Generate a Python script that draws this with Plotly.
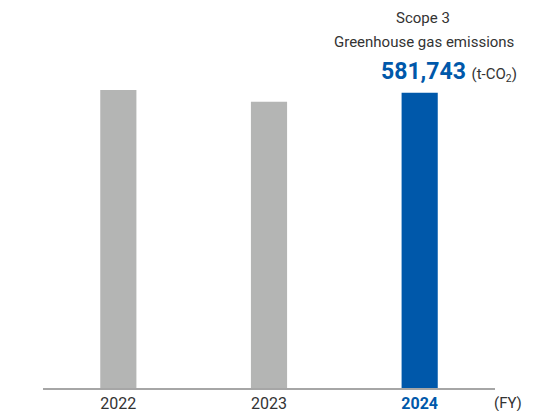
import plotly.graph_objects as go

years = ["2022", "2023", "2024"]
emissions = [587100, 564000, 581743]
bar_colors = ["#B4B5B4", "#B4B5B4", "#0058AA"]
tick_text = ["2022", "2023", "<b><span style='color:#0058AA'>2024</span></b>"]

fig = go.Figure(go.Bar(
    x=years, y=emissions, marker=dict(color=bar_colors, line=dict(width=0)),
    width=0.24, hoverinfo="skip"))

OFF = 8  # page body margin
W, H = 528, 403
L, R, T, B = 35, 41, 12, 23
pw, ph = W - L - R, H - T - B

def px(x):
    return (x - OFF - L) / pw

def py(y):
    return (H - B - (y - OFF)) / ph

fig.update_layout(
    width=W, height=H, margin=dict(l=L, r=R, t=T, b=B, autoexpand=False),
    paper_bgcolor="white", plot_bgcolor="white",
    font=dict(family="Roboto, sans-serif", color="#333333"),
    showlegend=False,
    xaxis=dict(type="category", tickvals=years, ticktext=tick_text,
               showline=True, linecolor="#A6A6A6", linewidth=1.5,
               ticks="", tickfont=dict(size=16, color="#333333"),
               automargin=False,
               showgrid=False, zeroline=False, range=[-0.5, 2.5]),
    yaxis=dict(range=[0, 725000], visible=False, showgrid=False, zeroline=False,
               automargin=False),
    annotations=[
        dict(text="Scope 3", x=px(423), y=py(18), xref="paper", yref="paper",
             showarrow=False, font=dict(size=15, color="#333333"),
             xanchor="center", yanchor="middle"),
        dict(text="Greenhouse gas emissions", x=px(424), y=py(42), xref="paper", yref="paper",
             showarrow=False, font=dict(size=15, color="#333333"),
             xanchor="center", yanchor="middle"),
        dict(text="<b>581,743</b> <span style='font-size:15px;color:#333333'>(t-CO<sub>2</sub>)</span>",
             x=px(519), y=py(72), xref="paper", yref="paper",
             showarrow=False, font=dict(size=23, color="#0058AA"),
             xanchor="right", yanchor="middle"),
        dict(text="(FY)", x=px(492), y=py(403), xref="paper", yref="paper",
             showarrow=False, font=dict(size=15, color="#333333"),
             xanchor="left", yanchor="middle"),
    ],
)

fig.write_html("out.html")
